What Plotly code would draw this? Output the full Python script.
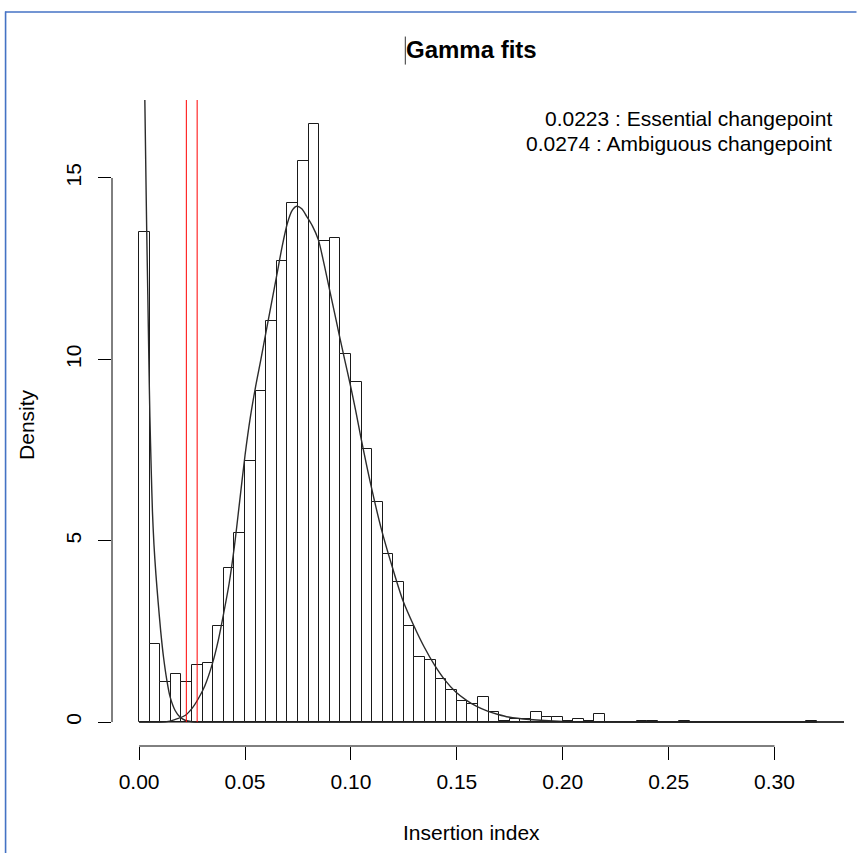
import numpy as np
import plotly.graph_objects as go

# ---------------- data ----------------
bin_start = 0.0
bin_width = 0.005
density = [13.5, 2.16, 1.11, 1.32, 1.11, 1.56, 1.62, 2.66, 4.24, 5.22,
           7.2, 9.14, 11.07, 12.71, 14.32, 15.46, 16.49, 13.26, 13.35, 10.14,
           9.37, 7.52, 6.07, 4.62, 3.87, 2.65, 1.80, 1.72, 1.20, 0.89,
           0.59, 0.50, 0.69, 0.28, 0.04, 0.09, 0.09, 0.29, 0.14, 0.14,
           0.04, 0.09, 0.04, 0.21, 0.0, 0.0, 0.0, 0.04, 0.04, 0.0,
           0.0, 0.04, 0.0, 0.0, 0.0, 0.0, 0.0, 0.0, 0.0, 0.0,
           0.0, 0.0, 0.0, 0.04]

# first gamma component (decreasing)
fit1_x = [0.0027, 0.0031, 0.0036, 0.0041, 0.0046, 0.0051, 0.0057, 0.0063, 0.0070, 0.0079,
          0.0090, 0.0102, 0.0115, 0.0131, 0.0146, 0.0170, 0.0193, 0.0217, 0.0250, 0.0300,
          0.1000, 0.3330]
fit1_y = [17.16, 15.5, 13.5, 11.8, 10.0, 8.4, 7.0, 5.8, 4.9, 4.1,
          3.3, 2.5, 1.8, 1.15, 0.70, 0.32, 0.14, 0.05, 0.01, 0.0,
          0.0, 0.0]

# second gamma component (main mode)
fit2_x = [0.000, 0.010, 0.0138, 0.0178, 0.0217, 0.0249, 0.0280, 0.0311, 0.0346, 0.0374,
          0.0399, 0.0425, 0.0450, 0.0475, 0.0500, 0.0525, 0.0550, 0.0575, 0.0600, 0.0625,
          0.0650, 0.0675, 0.0700, 0.0722, 0.0744, 0.0768, 0.0791, 0.0818, 0.0846, 0.0872,
          0.0898, 0.0922, 0.0945, 0.0971, 0.0997, 0.1022, 0.1047, 0.1096, 0.1145, 0.1195,
          0.1245, 0.1296, 0.1346, 0.1395, 0.1445, 0.1495, 0.1546, 0.1594, 0.1645, 0.1695,
          0.1744, 0.1844, 0.2000, 0.2200, 0.2500, 0.3330]
fit2_y = [0.00, 0.00, 0.02, 0.09, 0.18, 0.37, 0.65, 1.01, 1.61, 2.26,
          2.99, 3.82, 4.85, 6.1, 7.35, 8.4, 9.25, 10.0, 10.78, 11.55,
          12.32, 13.1, 13.75, 14.1, 14.22, 14.15, 13.94, 13.68, 13.30, 12.66,
          11.95, 11.30, 10.67, 9.98, 9.3, 8.6, 7.85, 6.49, 5.29, 4.28,
          3.36, 2.67, 2.07, 1.57, 1.15, 0.83, 0.60, 0.43, 0.30, 0.21,
          0.14, 0.07, 0.02, 0.005, 0.0, 0.0]

changepoints = [0.0223, 0.0274]
changepoint_labels = ["Essential changepoint", "Ambiguous changepoint"]

x_ticks = [0.00, 0.05, 0.10, 0.15, 0.20, 0.25, 0.30]
x_ticktext = ["0.00", "0.05", "0.10", "0.15", "0.20", "0.25", "0.30"]
y_ticks = [0, 5, 10, 15]
y_ticktext = ["0", "5", "10", "15"]

title = "Gamma fits"
x_title = "Insertion index"
y_title = "Density"

# ---------------- geometry ----------------
W, H = 857, 853
ML, MR, MT, MB = 112, 12.5, 100.4, 107.1
PW, PH = W - ML - MR, H - MT - MB
FONT = "Liberation Sans, Arial, Helvetica, sans-serif"
FS = 21

edges = bin_start + bin_width * np.arange(len(density))
x_lo, x_hi = edges[0], edges[-1] + bin_width
xpad = 0.04 * (x_hi - x_lo)
ymax = max(density)
x_range = [x_lo - xpad, x_hi + xpad]
y_range = [-0.04 * ymax, 1.04 * ymax]


def px_x(p):
    return (p - ML) / PW


def px_y(p):
    return (H - MB - p) / PH


fig = go.Figure()

fig.add_trace(go.Bar(
    x=edges, y=density, width=bin_width, offset=0,
    marker=dict(color="white", line=dict(color="#1a1a1a", width=1)),
    hoverinfo="skip", showlegend=False,
))

for fx, fy in ((fit1_x, fit1_y), (fit2_x, fit2_y)):
    fig.add_trace(go.Scatter(
        x=fx, y=fy, mode="lines",
        line=dict(color="#2b2b2b", width=1.4, shape="spline", smoothing=0.8),
        hoverinfo="skip", showlegend=False,
    ))

shapes = []
# zero-height bins are drawn as a baseline by R's hist
shapes.append(dict(type="line", xref="x", yref="y", x0=x_lo, x1=x_hi, y0=0, y1=0,
                   line=dict(color="#1a1a1a", width=1)))
# changepoint markers
for cp in changepoints:
    shapes.append(dict(type="line", xref="x", yref="y", x0=cp, x1=cp, y0=0, y1=y_range[1],
                       line=dict(color="#ff0000", width=1)))
# R style axis lines spanning first to last tick
shapes.append(dict(type="line", xref="x", yref="paper", x0=x_ticks[0], x1=x_ticks[-1], y0=0, y1=0,
                   line=dict(color="black", width=1)))
shapes.append(dict(type="line", xref="paper", yref="y", x0=0, x1=0, y0=y_ticks[0], y1=y_ticks[-1],
                   line=dict(color="black", width=1)))
# frame of the captured document (blue border) and text cursor
shapes.append(dict(type="line", xref="paper", yref="paper", x0=px_x(5), x1=px_x(W), y0=px_y(12.5), y1=px_y(12.5),
                   line=dict(color="#4472c4", width=1.6)))
shapes.append(dict(type="line", xref="paper", yref="paper", x0=px_x(5.5), x1=px_x(5.5), y0=px_y(12), y1=px_y(H),
                   line=dict(color="#4472c4", width=1.6)))
shapes.append(dict(type="line", xref="paper", yref="paper", x0=px_x(405.5), x1=px_x(405.5), y0=px_y(37), y1=px_y(65),
                   line=dict(color="#333333", width=1)))

annotations = []
annotations.append(dict(text="<b>%s</b>" % title, xref="paper", yref="paper",
                        x=px_x(472), y=px_y(50), xanchor="center", yanchor="middle",
                        showarrow=False, font=dict(family=FONT, size=24, color="black")))
for i, (cp, lab) in enumerate(zip(changepoints, changepoint_labels)):
    annotations.append(dict(text="%s : %s" % (cp, lab), xref="paper", yref="paper",
                            x=px_x(834), y=px_y(119 + 25 * i), xanchor="right", yanchor="middle",
                            showarrow=False, font=dict(family=FONT, size=FS, color="black")))
annotations.append(dict(text=x_title, xref="paper", yref="paper",
                        x=px_x(472), y=px_y(832), xanchor="center", yanchor="middle",
                        showarrow=False, font=dict(family=FONT, size=FS, color="black")))
annotations.append(dict(text=y_title, xref="paper", yref="paper", textangle=-90,
                        x=px_x(27), y=px_y(425), xanchor="center", yanchor="middle",
                        showarrow=False, font=dict(family=FONT, size=FS, color="black")))

fig.update_layout(
    width=W, height=H,
    margin=dict(l=ML, r=MR, t=MT, b=MB, pad=0),
    paper_bgcolor="white", plot_bgcolor="white",
    font=dict(family=FONT, size=FS, color="black"),
    bargap=0, showlegend=False,
    shapes=shapes, annotations=annotations,
    xaxis=dict(range=x_range, tickvals=x_ticks, ticktext=x_ticktext,
               showgrid=False, zeroline=False, showline=False,
               ticks="outside", ticklen=13, tickwidth=1, tickcolor="black",
               ticklabelstandoff=4,
               tickfont=dict(family=FONT, size=FS)),
    yaxis=dict(range=y_range, tickvals=y_ticks, ticktext=y_ticktext,
               showgrid=False, zeroline=False, showline=False,
               ticks="outside", ticklen=13, tickwidth=1, tickcolor="black",
               ticklabelstandoff=9,
               tickangle=-90, tickfont=dict(family=FONT, size=FS)),
)

fig.write_html("out.html")
